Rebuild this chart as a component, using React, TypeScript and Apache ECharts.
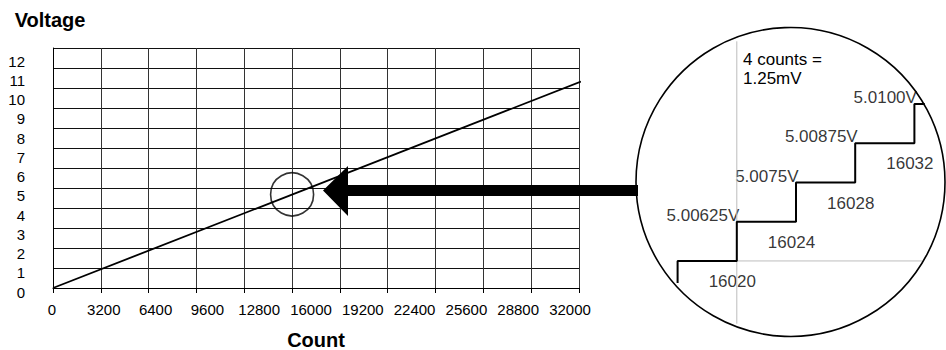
import React, { useEffect, useRef } from "react";
import * as echarts from "echarts";

// ---- main chart scales ----
const countGridMin = 0;
const countGridMax = 35200;
const countStep = 3200;
const countLabelMin = 0;
const countLabelMax = 32000;
const voltMin = 0;
const voltMax = 12;
const voltStep = 1;

// ---- main transfer line ----
const lineCounts = [0, 35330];
const lineVolts = [0, 10.32];

// ---- small circle marking the zoomed spot ----
const markCount = 16000;
const markVolt = 4.68;

// ---- zoomed staircase ----
const stepCounts = [16016, 16020, 16024, 16028, 16032];
const stepLevels = [5.005, 5.00625, 5.0075, 5.00875, 5.01];
const stepStartVolt = 5.0043;
const stepEndCount = 16032.7;
const levelLabels = ["5.00625V", "5.0075V", "5.00875V", "5.0100V"];
const countLabels = ["16020", "16024", "16028", "16032"];
const refCount = 16020;
const refVolt = 5.005;
const refVoltSpan = [5.003, 5.012];
const refCountSpan = [16016, 16032.5];
const insetNote = "4 counts =\n1.25mV";

const FONT = "'Liberation Sans', Arial, Helvetica, sans-serif";

export default function App() {
  const ref = useRef<HTMLDivElement>(null);

  useEffect(() => {
    document.body.style.margin = "0";
    if (!ref.current) return;
    const chart = echarts.init(ref.current, undefined, { renderer: "svg" });

    const stairs: number[][] = [[stepCounts[0], stepStartVolt]];
    for (let i = 0; i < stepCounts.length; i++) {
      stairs.push([stepCounts[i], stepLevels[i]]);
      if (i < stepCounts.length - 1) stairs.push([stepCounts[i + 1], stepLevels[i]]);
    }
    stairs.push([stepEndCount, stepLevels[stepLevels.length - 1]]);

    const levelPts = stepLevels.slice(1).map((v, i) => [stepCounts[i + 1], v]);
    const countPts = stepLevels.slice(0, -1).map((v, i) => [stepCounts[i + 1], v]);

    const txt = { fontFamily: FONT, color: "#000" };

    const option: any = {
      animation: false,
      backgroundColor: "#fff",
      grid: [
        { left: 53, top: 48, width: 526, height: 240, outerBoundsMode: "none" },
        { left: 52, top: 61, width: 518, height: 231, outerBoundsMode: "none" },
        { left: 648, top: 57, width: 296, height: 251, outerBoundsMode: "none" },
      ],
      xAxis: [
        {
          gridIndex: 0,
          type: "value",
          min: countGridMin,
          max: countGridMax,
          interval: countStep,
          axisLabel: { show: false },
          axisLine: { show: true, lineStyle: { color: "#000", width: 1 } },
          axisTick: { show: true, length: 5, lineStyle: { color: "#000" } },
          splitLine: { show: true, lineStyle: { color: "#333", width: 1 } },
          name: "Count",
          nameLocation: "middle",
          nameGap: 42,
          nameTextStyle: { ...txt, fontSize: 20, fontWeight: "bold" },
        },
        {
          gridIndex: 1,
          type: "value",
          min: countLabelMin,
          max: countLabelMax,
          interval: countStep,
          axisLine: { show: false },
          axisTick: { show: false },
          splitLine: { show: false },
          axisLabel: {
            ...txt,
            fontSize: 15,
            margin: 10,
            showMinLabel: true,
            showMaxLabel: true,
            formatter: (v: number) => String(v),
          },
        },
        { gridIndex: 2, type: "value", min: 16014, max: 16034, show: false },
      ],
      yAxis: [
        {
          gridIndex: 0,
          type: "value",
          min: voltMin,
          max: voltMax,
          interval: voltStep,
          axisLabel: { show: false },
          axisLine: { show: true, lineStyle: { color: "#000", width: 1 } },
          axisTick: { show: false },
          splitLine: { show: true, lineStyle: { color: "#111", width: 1 } },
          name: "Voltage",
          nameLocation: "end",
          nameGap: 18,
          nameTextStyle: { ...txt, fontSize: 20, fontWeight: "bold", padding: [0, 6, 0, 0] },
        },
        {
          gridIndex: 1,
          type: "value",
          min: voltMin,
          max: voltMax,
          interval: voltStep,
          axisLine: { show: false },
          axisTick: { show: false },
          splitLine: { show: false },
          axisLabel: { ...txt, fontSize: 15, margin: 27, showMinLabel: true, showMaxLabel: true },
        },
        { gridIndex: 2, type: "value", min: 5.0035, max: 5.0115, show: false },
      ],
      series: [
        {
          type: "line",
          xAxisIndex: 0,
          yAxisIndex: 0,
          data: lineCounts.map((c, i) => [c, lineVolts[i]]),
          symbol: "none",
          clip: false,
          silent: true,
          lineStyle: { color: "#000", width: 1.8 },
        },
        {
          type: "scatter",
          xAxisIndex: 0,
          yAxisIndex: 0,
          data: [[markCount, markVolt]],
          symbol: "circle",
          symbolSize: 43,
          silent: true,
          itemStyle: { color: "rgba(0,0,0,0)", borderColor: "#000", borderWidth: 1.6 },
        },
        {
          type: "line",
          xAxisIndex: 2,
          yAxisIndex: 2,
          data: [
            [refCount, refVoltSpan[0]],
            [refCount, refVoltSpan[1]],
          ],
          symbol: "none",
          clip: false,
          silent: true,
          lineStyle: { color: "#bdbdbd", width: 1 },
        },
        {
          type: "line",
          xAxisIndex: 2,
          yAxisIndex: 2,
          data: [
            [refCountSpan[0], refVolt],
            [refCountSpan[1], refVolt],
          ],
          symbol: "none",
          clip: false,
          silent: true,
          lineStyle: { color: "#bdbdbd", width: 1 },
        },
        {
          type: "line",
          xAxisIndex: 2,
          yAxisIndex: 2,
          data: stairs,
          symbol: "none",
          clip: false,
          silent: true,
          lineStyle: { color: "#000", width: 2 },
        },
        {
          type: "scatter",
          xAxisIndex: 2,
          yAxisIndex: 2,
          data: levelPts,
          symbolSize: 1,
          silent: true,
          itemStyle: { color: "rgba(0,0,0,0)" },
          label: {
            show: true,
            position: [3, -6],
            align: "right",
            verticalAlign: "middle",
            ...txt,
            fontSize: 17,
            formatter: (p: any) => levelLabels[p.dataIndex],
          },
        },
        {
          type: "scatter",
          xAxisIndex: 2,
          yAxisIndex: 2,
          data: countPts,
          symbolSize: 1,
          silent: true,
          itemStyle: { color: "rgba(0,0,0,0)" },
          label: {
            show: true,
            position: [-4, 21],
            align: "center",
            verticalAlign: "middle",
            ...txt,
            fontSize: 17,
            formatter: (p: any) => countLabels[p.dataIndex],
          },
        },
      ],
      graphic: [
        {
          type: "circle",
          shape: { cx: 790.5, cy: 182, r: 154.5 },
          style: { fill: "none", stroke: "#000", lineWidth: 1.6 },
          silent: true,
          z: 10,
        },
        {
          type: "polygon",
          shape: {
            points: [
              [323, 190.5],
              [348, 166],
              [348, 185],
              [638, 185],
              [638, 196],
              [348, 196],
              [348, 216],
            ],
          },
          style: { fill: "#000" },
          silent: true,
          z: 10,
        },
        {
          type: "text",
          x: 743,
          y: 68.5,
          silent: true,
          z: 10,
          style: {
            text: insetNote,
            font: `17px ${FONT}`,
            fill: "#000",
            align: "left",
            verticalAlign: "middle",
            lineHeight: 19,
          },
        },
      ],
    };

    chart.setOption(option);
    return () => chart.dispose();
  }, []);

  return <div ref={ref} style={{ width: 946, height: 350 }} />;
}
